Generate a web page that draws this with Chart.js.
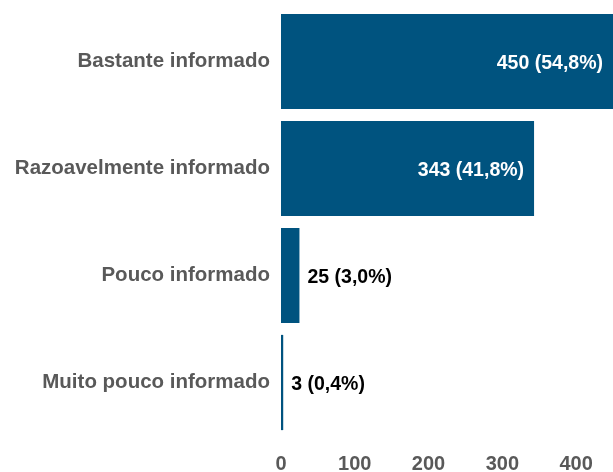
<!DOCTYPE html>
<html>
<head>
<meta charset="utf-8">
<script src="https://cdn.jsdelivr.net/npm/chart.js@4"></script>
<style>
  html, body { margin: 0; padding: 0; background: #fff; overflow: hidden; }
  #wrap { width: 613px; height: 472px; }
</style>
</head>
<body>
<div id="wrap"><canvas id="myChart"></canvas></div>
<script>
// data
const categories = ['Bastante informado', 'Razoavelmente informado', 'Pouco informado', 'Muito pouco informado'];
const counts = [450, 343, 25, 3];
const percents = ['54,8%', '41,8%', '3,0%', '0,4%'];
const xTicks = [0, 100, 200, 300, 400];

const barColor = '#00537f';
const greyText = '#595959';
const fontFamily = '"Liberation Sans", Arial, sans-serif';

// draws "n (p%)" inside the long bars, after the short ones
const valueLabels = {
  id: 'valueLabels',
  afterDatasetsDraw(chart) {
    const ctx = chart.ctx;
    const meta = chart.getDatasetMeta(0);
    ctx.save();
    ctx.font = 'bold 19.5px ' + fontFamily;
    ctx.textBaseline = 'middle';
    meta.data.forEach((bar, i) => {
      const text = counts[i] + ' (' + percents[i] + ')';
      const w = ctx.measureText(text).width;
      const barLen = bar.x - bar.base;
      if (barLen > w + 20) {
        ctx.fillStyle = '#ffffff';
        ctx.textAlign = 'right';
        ctx.fillText(text, Math.min(bar.x, chart.chartArea.right) - 10, bar.y + 2);
      } else {
        ctx.fillStyle = '#000000';
        ctx.textAlign = 'left';
        ctx.fillText(text, bar.x + 8, bar.y + 2);
      }
    });
    ctx.restore();
  }
};

const config = {
  type: 'bar',
  data: {
    labels: categories,
    datasets: [{
      data: counts,
      backgroundColor: barColor,
      borderWidth: 0,
      barPercentage: 0.89,
      categoryPercentage: 1
    }]
  },
  options: {
    indexAxis: 'y',
    responsive: true,
    maintainAspectRatio: false,
    animation: false,
    layout: { padding: { top: 8, right: 0, left: 0, bottom: 0 } },
    plugins: {
      legend: { display: false },
      tooltip: { enabled: false }
    },
    scales: {
      x: {
        min: 0,
        max: 450,
        grid: { display: false, drawTicks: false },
        border: { display: false },
        ticks: {
          stepSize: 100,
          padding: 16,
          color: greyText,
          font: { family: fontFamily, size: 20, weight: 'bold' }
        },
        afterBuildTicks(scale) {
          scale.ticks = xTicks.map(v => ({ value: v }));
        },
        afterFit(scale) {
          scale.height = 36;
          scale.paddingLeft = 0;
          scale.paddingRight = 0;
        }
      },
      y: {
        grid: { display: false, drawTicks: false },
        border: { display: false },
        ticks: {
          padding: 11,
          color: greyText,
          font: { family: fontFamily, size: 20.5, weight: 'bold' }
        },
        afterFit(scale) {
          scale.width = 281;
          scale.paddingTop = 0;
          scale.paddingBottom = 0;
        }
      }
    }
  },
  plugins: [valueLabels]
};

const myChart = new Chart(document.getElementById('myChart'), config);
</script>
</body>
</html>
